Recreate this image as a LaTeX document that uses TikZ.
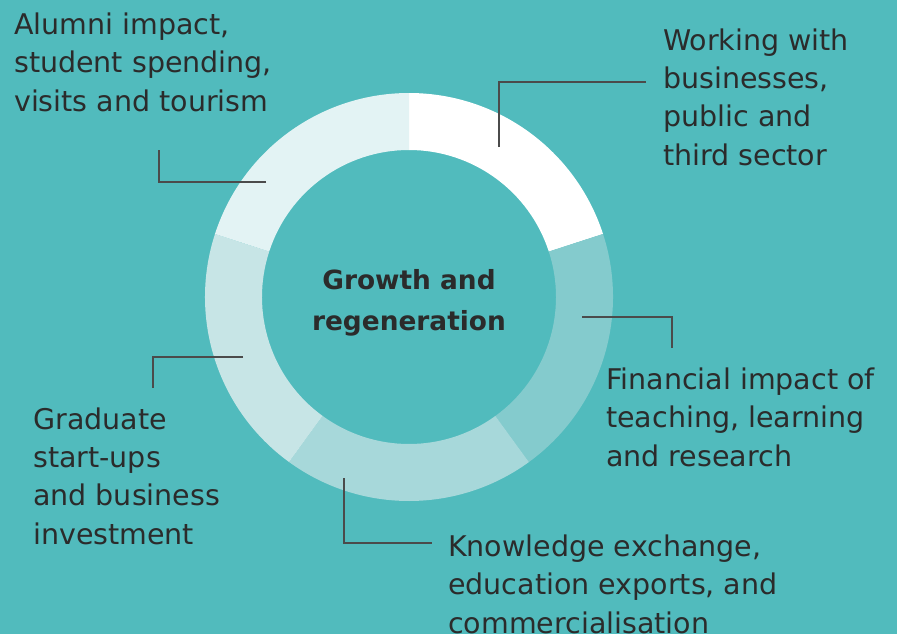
\documentclass[tikz,border=0pt]{standalone}
\usepackage{fontspec}
\setmainfont{DejaVu Sans}
\usetikzlibrary{positioning}

\definecolor{bgteal}{HTML}{51BBBD}
\definecolor{segone}{HTML}{FFFFFF}
\definecolor{segtwo}{HTML}{84CBCD}
\definecolor{segthree}{HTML}{A7D8DA}
\definecolor{segfour}{HTML}{C7E5E6}
\definecolor{segfive}{HTML}{E3F3F4}
\definecolor{inkgray}{HTML}{2B2B2B}

\tikzset{
  leader/.style={line width=1.3pt, color=inkgray!85},
  label/.style={anchor=base west, align=left, inner sep=0pt, text=inkgray,
    font=\fontsize{28.5}{38.3}\selectfont},
  hub/.style={anchor=base, align=center, inner sep=0pt, text=inkgray,
    font=\fontsize{26.4}{41}\selectfont\bfseries}
}

\begin{document}
\begin{tikzpicture}[x=1pt,y=1pt]
\fill[bgteal](0,0) rectangle (897,-634);
\useasboundingbox (0,0) rectangle (897,-634);
\coordinate (c) at (409,-297);
% ring
\fill[segone]([shift={(18:204)}]c) arc[start angle=18,end angle=90,radius=204] -- ([shift={(90:147)}]c) arc[start angle=90,end angle=18,radius=147] -- cycle;
\fill[segtwo]([shift={(-54:204)}]c) arc[start angle=-54,end angle=18,radius=204] -- ([shift={(18:147)}]c) arc[start angle=18,end angle=-54,radius=147] -- cycle;
\fill[segthree]([shift={(-126:204)}]c) arc[start angle=-126,end angle=-54,radius=204] -- ([shift={(-54:147)}]c) arc[start angle=-54,end angle=-126,radius=147] -- cycle;
\fill[segfour]([shift={(162:204)}]c) arc[start angle=162,end angle=234,radius=204] -- ([shift={(234:147)}]c) arc[start angle=234,end angle=162,radius=147] -- cycle;
\fill[segfive]([shift={(90:204)}]c) arc[start angle=90,end angle=162,radius=204] -- ([shift={(162:147)}]c) arc[start angle=162,end angle=90,radius=147] -- cycle;
\node[hub] (growth) at (409,-330) {Growth and\\regeneration};
% labels (anchored at the last line)
\node[label] (working) at (663,-165) {Working with\\businesses,\\public and\\third sector};
\node[label] (alumni) at (14,-111) {Alumni impact,\\student spending,\\visits and tourism};
\node[label] (financial) at (606,-466) {Financial impact of\\teaching, learning\\and research};
\node[label] (graduate) at (33,-544) {Graduate\\start-ups\\and business\\investment};
\node[label] (knowledge) at (448,-633) {Knowledge exchange,\\education exports, and\\commercialisation};
% leaders
\coordinate (w1) at (499,-147);
\coordinate (w2) at (646,-82);
\coordinate (a1) at (266,-182);
\coordinate (a2) at (159,-150);
\coordinate (f1) at (582,-317);
\coordinate (f2) at (672,-348);
\coordinate (g1) at (243,-357);
\coordinate (g2) at (153,-388);
\coordinate (k1) at (344,-478);
\coordinate (k2) at (432,-543);
\draw[leader](w1) |- (w2);
\draw[leader](a1) -| (a2);
\draw[leader](f1) -| (f2);
\draw[leader](g1) -| (g2);
\draw[leader](k1) |- (k2);
\end{tikzpicture}
\end{document}
